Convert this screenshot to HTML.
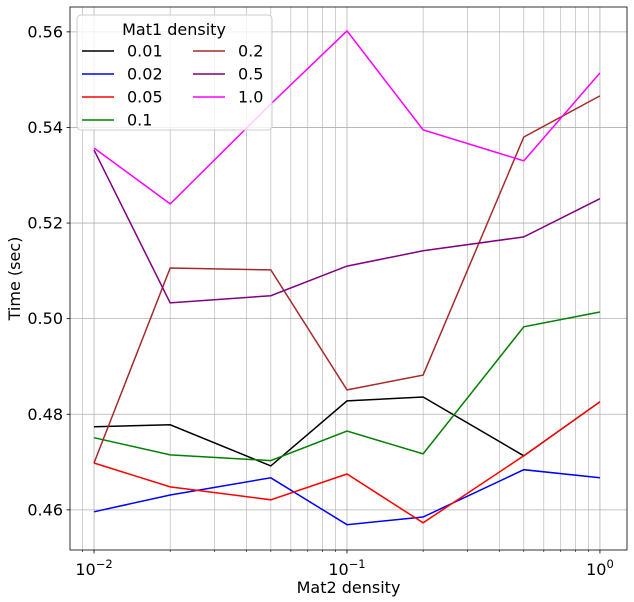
<!DOCTYPE html>
<html><head><meta charset="utf-8"><style>
html,body{margin:0;padding:0;background:#fff;}
svg{display:block;font-family:"DejaVu Sans","Liberation Sans",sans-serif;}
</style></head><body>
<svg id="chart" width="634" height="602"></svg>
<script>
const xValues=[0.01,0.02,0.05,0.1,0.2,0.5,1.0];
const seriesNames=["0.01","0.02","0.05","0.1","0.2","0.5","1.0"];
const seriesColors=["black","blue","red","green","brown","purple","magenta"];
const s001=[0.4774,0.4778,0.4692,0.4828,0.4836,0.4713,0.4826];
const s002=[0.4596,0.4631,0.4667,0.4569,0.4585,0.4684,0.4667];
const s005=[0.4698,0.4648,0.4621,0.4675,0.4573,0.4713,0.4826];
const s01=[0.4751,0.4715,0.4703,0.4765,0.4717,0.4983,0.5014];
const s02=[0.4698,0.5106,0.5102,0.4851,0.4882,0.5380,0.5466];
const s05=[0.5353,0.5033,0.5048,0.5110,0.5142,0.5171,0.5251];
const s10=[0.5357,0.5240,0.5449,0.5602,0.5395,0.5330,0.5514];
const yTicks=[0.46,0.48,0.50,0.52,0.54,0.56];
const yTickLabels=["0.46","0.48","0.50","0.52","0.54","0.56"];
const xTicks=[0.01,0.1,1];
const allSeries=[s001,s002,s005,s01,s02,s05,s10];

const NS="http://www.w3.org/2000/svg";
const svg=document.getElementById('chart');
const L=70,R=627,T=7,B=550;
const xMin=-2.095,xMax=0.107,yMin=0.4516,yMax=0.5652;
const xs=v=>L+(Math.log10(v)-xMin)/(xMax-xMin)*(R-L);
const ys=v=>B-(v-yMin)/(yMax-yMin)*(B-T);
function el(tag,attrs,parent){const e=document.createElementNS(NS,tag);for(const k in attrs)e.setAttribute(k,attrs[k]);(parent||svg).appendChild(e);return e;}

const grid=el('g',{});


for(let d=-3;d<=0;d++){for(let m=1;m<10;m++){const v=m*Math.pow(10,d);const lv=Math.log10(v);if(lv<xMin||lv>xMax)continue;const x=xs(v);
 el('line',{x1:x,x2:x,y1:T,y2:B,stroke:'#b0b0b0','stroke-width':m===1?0.8:0.6},grid);
 el('line',{x1:x,x2:x,y1:B,y2:B+(m===1?3.5:2),stroke:'#000','stroke-width':m===1?0.8:0.6},svg);}}
yTicks.forEach((v,i)=>{const y=ys(v);el('line',{x1:L,x2:R,y1:y,y2:y,stroke:'#b0b0b0','stroke-width':0.8},grid);
 el('line',{x1:L-3.5,x2:L,y1:y,y2:y,stroke:'#000','stroke-width':0.8});
 const t=el('text',{x:L-7,y:y+5.5,'text-anchor':'end','font-size':16});t.textContent=yTickLabels[i];
 
 });
xTicks.forEach(v=>{const x=xs(v);const e=Math.round(Math.log10(v));
 const t=el('text',{x:x,y:B+25,'text-anchor':'middle','font-size':16});
 
 
 const a=el('tspan',{},t);a.textContent='10';const b=el('tspan',{dy:-7,'font-size':11.5},t);b.textContent='\u2212'+(e<0?'':'')+(e<0?String(-e):'0').replace(/^/, e<0?'':'');
 if(e===0){b.textContent='0';} else {b.textContent='\u2212'+(-e);} });

allSeries.forEach((s,i)=>{const p=s.map((v,j)=>(j?'L':'M')+xs(xValues[j]).toFixed(1)+','+ys(v).toFixed(1)).join(' ');
 const path=el('path',{d:p,fill:'none',stroke:seriesColors[i],'stroke-width':1.5});
 
 });

el('rect',{x:L,y:T,width:R-L,height:B-T,fill:'none',stroke:'#000','stroke-width':0.8});

const xl=el('text',{x:(L+R)/2,y:593,'text-anchor':'middle','font-size':16});xl.textContent='Mat2 density';


const yl=el('text',{x:0,y:0,'text-anchor':'middle','font-size':16,transform:'translate(20,'+((T+B)/2)+') rotate(-90)'});yl.textContent='Time (sec)';



const lg=el('g',{});


el('rect',{x:77,y:15,width:195,height:115,rx:4,fill:'#fff','fill-opacity':0.8,stroke:'#ccc'},lg);
const lt=el('text',{x:174,y:35,'text-anchor':'middle','font-size':16},lg);lt.textContent='Mat1 density';
seriesNames.forEach((n,i)=>{const col=i<4?0:1,row=i<4?i:i-4;const x0=82+col*111,y0=51+row*23;
 const g=el('g',{},lg);
 
 
 el('line',{x1:x0,x2:x0+32,y1:y0,y2:y0,stroke:seriesColors[i],'stroke-width':1.5},g);
 const t=el('text',{x:x0+45,y:y0+5.5,'font-size':16},g);t.textContent=n;});
</script>
</body></html>
